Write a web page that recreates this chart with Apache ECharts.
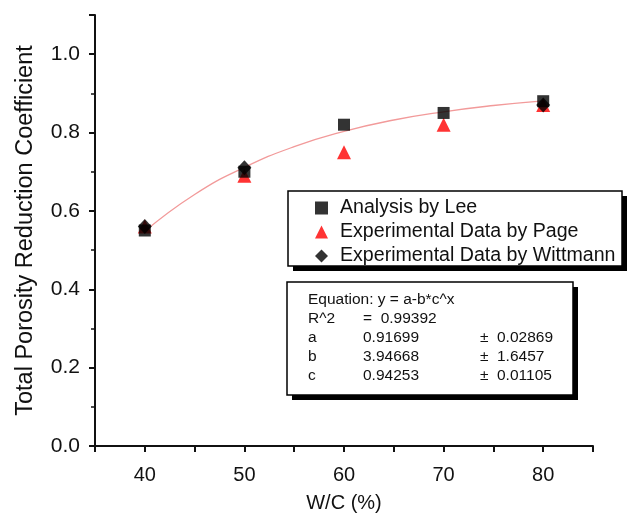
<!DOCTYPE html>
<html><head><meta charset="utf-8">
<script src="https://cdn.jsdelivr.net/npm/echarts@6/dist/echarts.min.js"></script>
<style>html,body{margin:0;padding:0;background:#fff}#c{width:640px;height:518px}</style>
</head><body><div id="c"></div>
<script>
const wc = [40, 50, 60, 70, 80];
const lee = [0.55, 0.70, 0.82, 0.85, 0.88];
const pageX = [40, 50, 60, 70, 80];
const page = [0.56, 0.69, 0.75, 0.82, 0.87];
const wittX = [40, 50, 80];
const witt = [0.56, 0.71, 0.87];
const fitX = [40, 45, 50, 55, 60, 65, 70, 75, 80];
const fitY = [0.548, 0.642, 0.711, 0.764, 0.803, 0.832, 0.853, 0.869, 0.881];
const yTicks = [0, 0.2, 0.4, 0.6, 0.8, 1.0];
const xLabels = [40, 50, 60, 70, 80];
const eqLines = [
  ['Equation: y = a-b*c^x', '', '', ''],
  ['R^2', '=  0.99392', '', ''],
  ['a', '0.91699', '±', '0.02869'],
  ['b', '3.94668', '±', '1.6457'],
  ['c', '0.94253', '±', '0.01105']
];
const seriesNames = ['Analysis by Lee', 'Experimental Data by Page', 'Experimental Data by Wittmann'];

const FONT = '"Liberation Sans", Arial, sans-serif';
const zip = (xs, ys) => xs.map((x, i) => [x, ys[i]]);

const eqGraphics = [];
const eqRowY = [301, 320, 339, 358, 377];
const eqColX = [308, 363, 480, 497];
eqLines.forEach((row, r) => {
  row.forEach((t, c) => {
    if (!t) return;
    eqGraphics.push({type: 'text', left: eqColX[c], top: eqRowY[r] - 9, z: 12,
      style: {text: t, font: '15.5px ' + FONT, fill: '#111'}});
  });
});

const chart = echarts.init(document.getElementById('c'), null, {renderer: 'canvas'});
chart.setOption({
  animation: false,
  backgroundColor: '#fff',
  grid: {left: 95, right: 47, top: 15, bottom: 71, containLabel: false},
  xAxis: {
    type: 'value', min: 35, max: 85, interval: 5,
    name: 'W/C (%)', nameLocation: 'middle', nameGap: 47,
    nameTextStyle: {fontSize: 20, fontFamily: FONT, color: '#111'},
    axisLine: {onZero: false, lineStyle: {color: '#111', width: 2}},
    axisTick: {show: true, length: 6, lineStyle: {color: '#111', width: 2}},
    axisLabel: {fontSize: 20, fontFamily: FONT, color: '#111', margin: 19,
      formatter: v => xLabels.includes(v) ? String(v) : ''},
    splitLine: {show: false}
  },
  yAxis: {
    type: 'value', min: 0, max: 1.1, interval: 0.2,
    name: 'Total Porosity Reduction Coefficient', nameLocation: 'middle', nameGap: 57,
    nameTextStyle: {fontSize: 23.5, fontFamily: FONT, color: '#111'},
    axisLine: {show: true, lineStyle: {color: '#111', width: 2}},
    axisTick: {show: true, length: 6, lineStyle: {color: '#111', width: 2}},
    minorTick: {show: true, splitNumber: 2, length: 4, lineStyle: {color: '#111', width: 1.5}},
    axisLabel: {fontSize: 21, fontFamily: FONT, color: '#111', margin: 15,
      formatter: v => yTicks.some(t => Math.abs(t - v) < 1e-9) ? v.toFixed(1) : ''},
    splitLine: {show: false}
  },
  legend: {
    orient: 'vertical', left: 310, top: 193, itemGap: 4,
    itemWidth: 13, itemHeight: 13, z: 12,
    data: [
      {name: seriesNames[0], icon: 'rect', itemStyle: {color: '#000'}},
      {name: seriesNames[1], icon: 'triangle'},
      {name: seriesNames[2], icon: 'diamond'}
    ],
    textStyle: {fontSize: 19.6, fontFamily: FONT, color: '#111', padding: [0, 0, 0, 7]},
    selectedMode: false
  },
  graphic: [
    {type: 'rect', z: 10, shape: {x: 293, y: 196, width: 334, height: 75}, style: {fill: '#000'}},
    {type: 'rect', z: 11, shape: {x: 288, y: 191, width: 334, height: 75}, style: {fill: '#fff', stroke: '#000', lineWidth: 1.5}},
    {type: 'rect', z: 10, shape: {x: 292, y: 287, width: 286, height: 113}, style: {fill: '#000'}},
    {type: 'rect', z: 11, shape: {x: 287, y: 282, width: 286, height: 113}, style: {fill: '#fff', stroke: '#000', lineWidth: 1.5}}
  ].concat(eqGraphics),
  series: [
    {type: 'line', name: 'fit', data: zip(fitX, fitY), smooth: true, showSymbol: false,
      lineStyle: {color: '#f29a9a', width: 1.3}, z: 1},
    {type: 'scatter', name: seriesNames[0], data: zip(wc, lee), symbol: 'rect', symbolSize: 12,
      itemStyle: {color: '#000'}, z: 3},
    {type: 'scatter', name: seriesNames[1], data: zip(pageX, page), symbol: 'triangle', symbolSize: 14,
      itemStyle: {color: '#ff0000'}, z: 2},
    {type: 'scatter', name: seriesNames[2], data: zip(wittX, witt), symbol: 'diamond', symbolSize: [14, 15],
      itemStyle: {color: '#000'}, z: 4}
  ]
});
</script></body></html>
